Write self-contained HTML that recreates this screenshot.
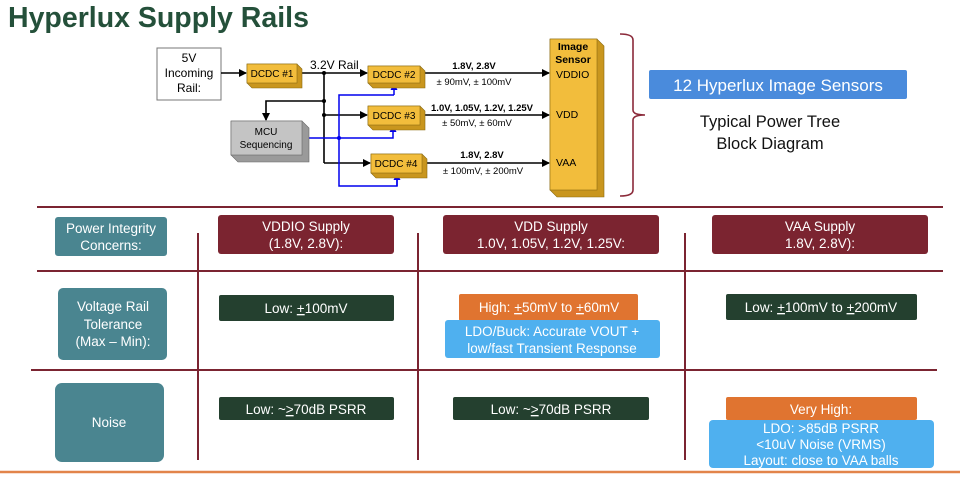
<!DOCTYPE html>
<html><head><meta charset="utf-8"><style>
html,body{margin:0;padding:0;background:#fff;}
svg{display:block;font-family:"Liberation Sans",Arial,sans-serif;}
</style></head><body>
<svg width="960" height="478" viewBox="0 0 960 478" xmlns="http://www.w3.org/2000/svg">
<defs>
<marker id="ab" markerWidth="8" markerHeight="8" refX="7" refY="4" orient="auto" markerUnits="userSpaceOnUse"><path d="M0,0 L8,4 L0,8 z" fill="#000"/></marker>
<marker id="abl" markerWidth="7" markerHeight="7" refX="6" refY="3.5" orient="auto" markerUnits="userSpaceOnUse"><path d="M0,0 L7,3.5 L0,7 z" fill="#0000ee"/></marker>
</defs>
<text x="8" y="27" font-size="28.5" font-weight="bold" fill="#24503a">Hyperlux Supply Rails</text>

<rect x="157" y="48" width="64" height="52" fill="#fff" stroke="#777"/>
<text font-size="12" text-anchor="middle"><tspan x="189" y="62">5V</tspan><tspan x="189" y="77">Incoming</tspan><tspan x="189" y="92">Rail:</tspan></text>

<g stroke="#000" stroke-width="1.6" fill="none">
<line x1="221" y1="73" x2="246" y2="73" marker-end="url(#ab)"/>
<line x1="297" y1="73" x2="367" y2="73" marker-end="url(#ab)"/>
<line x1="324" y1="73" x2="324" y2="163"/>
<polyline points="324,101 266,101 266,120" marker-end="url(#ab)"/>
<line x1="324" y1="115" x2="367" y2="115" marker-end="url(#ab)"/>
<line x1="324" y1="163" x2="370" y2="163" marker-end="url(#ab)"/>
<line x1="425" y1="73" x2="549" y2="73" marker-end="url(#ab)"/>
<line x1="425" y1="115" x2="549" y2="115" marker-end="url(#ab)"/>
<line x1="427" y1="163" x2="549" y2="163" marker-end="url(#ab)"/>
</g>
<g fill="#000"><circle cx="324" cy="73" r="2"/><circle cx="324" cy="101" r="2"/><circle cx="324" cy="115" r="2"/></g>
<text x="310" y="69" font-size="12">3.2V Rail</text>

<g stroke="#0000ee" stroke-width="1.5" fill="none">
<polyline points="302,138 393,138 393,126" marker-end="url(#abl)"/>
<polyline points="394,95 339,95 339,186 397,186 397,174" />
<polyline points="394,95 394,84" marker-end="url(#abl)"/>
<polyline points="397,186 397,174" marker-end="url(#abl)"/>
</g>
<circle cx="339" cy="138" r="2" fill="#0000ee"/>

<g font-size="10" text-anchor="middle">
<g><polygon points="247,64 297,64 302,69 302,88 252,88 247,83" fill="#c9961e" stroke="#8a6a10" stroke-width=".6"/><rect x="247" y="64" width="50" height="19" fill="#f2bd3c" stroke="#8a6a10" stroke-width=".6"/><text x="272" y="77">DCDC #1</text></g>
<g><polygon points="368,66 420,66 425,71 425,88 373,88 368,83" fill="#c9961e" stroke="#8a6a10" stroke-width=".6"/><rect x="368" y="66" width="52" height="17" fill="#f2bd3c" stroke="#8a6a10" stroke-width=".6"/><text x="394" y="78">DCDC #2</text></g>
<g><polygon points="368,106 420,106 425,111 425,130 373,130 368,125" fill="#c9961e" stroke="#8a6a10" stroke-width=".6"/><rect x="368" y="106" width="52" height="19" fill="#f2bd3c" stroke="#8a6a10" stroke-width=".6"/><text x="394" y="119">DCDC #3</text></g>
<g><polygon points="371,154 422,154 427,159 427,178 376,178 371,173" fill="#c9961e" stroke="#8a6a10" stroke-width=".6"/><rect x="371" y="154" width="51" height="19" fill="#f2bd3c" stroke="#8a6a10" stroke-width=".6"/><text x="396" y="167">DCDC #4</text></g>
<g><polygon points="231,121 302,121 309,128 309,162 238,162 231,155" fill="#9a9a9a" stroke="#666" stroke-width=".6"/><rect x="231" y="121" width="71" height="34" fill="#c4c4c4" stroke="#666" stroke-width=".6"/><text x="266" y="135">MCU</text><text x="266" y="148">Sequencing</text></g>
</g>

<polygon points="550,39 597,39 604,46 604,197 557,197 550,190" fill="#c9961e" stroke="#8a6a10" stroke-width=".6"/>
<rect x="550" y="39" width="47" height="151" fill="#f2bd3c" stroke="#8a6a10" stroke-width=".6"/>
<text font-size="10.5" font-weight="bold" text-anchor="middle"><tspan x="573" y="50">Image</tspan><tspan x="573" y="63">Sensor</tspan></text>
<text font-size="10.5"><tspan x="556" y="78">VDDIO</tspan><tspan x="556" y="118">VDD</tspan><tspan x="556" y="166">VAA</tspan></text>

<g font-size="9.5" text-anchor="middle">
<text x="474" y="69" font-weight="bold">1.8V, 2.8V</text><text x="474" y="85">± 90mV, ± 100mV</text>
<text x="482" y="111" font-weight="bold">1.0V, 1.05V, 1.2V, 1.25V</text><text x="477" y="126">± 50mV, ± 60mV</text>
<text x="482" y="158" font-weight="bold">1.8V, 2.8V</text><text x="483" y="174">± 100mV, ± 200mV</text>
</g>

<path d="M620,34 Q633,34 633,40 L633,110 Q633,115 645,115 Q633,115 633,120 L633,190 Q633,196 620,196" fill="none" stroke="#8b2a3a" stroke-width="1.6"/>
<rect x="649" y="70" width="258" height="29" rx="2" fill="#4a8bdc"/>
<text x="778" y="91" font-size="17" fill="#fff" text-anchor="middle">12 Hyperlux Image Sensors</text>
<text font-size="16.5" text-anchor="middle" fill="#111"><tspan x="770" y="127">Typical Power Tree</tspan><tspan x="770" y="149">Block Diagram</tspan></text>

<g stroke="#7b2431" stroke-width="2">
<line x1="37" y1="207" x2="943" y2="207"/>
<line x1="37" y1="271" x2="943" y2="271"/>
<line x1="31" y1="370" x2="937" y2="370"/>
<line x1="198" y1="233" x2="198" y2="460"/>
<line x1="418" y1="233" x2="418" y2="460"/>
<line x1="685" y1="233" x2="685" y2="460"/>
</g>
<line x1="0" y1="472" x2="960" y2="472" stroke="#e2844a" stroke-width="2.5"/>

<g font-size="13.5" text-anchor="middle" fill="#fff">
<rect x="55" y="217" width="112" height="39" rx="3" fill="#4a8590"/>
<text x="111" y="233">Power Integrity</text><text x="111" y="250">Concerns:</text>
<rect x="218" y="215" width="176" height="39" rx="3" fill="#7b2430"/>
<text x="306" y="231">VDDIO Supply</text><text x="306" y="248">(1.8V, 2.8V):</text>
<rect x="443" y="215" width="216" height="39" rx="3" fill="#7b2430"/>
<text x="551" y="231">VDD Supply</text><text x="551" y="248">1.0V, 1.05V, 1.2V, 1.25V:</text>
<rect x="712" y="215" width="216" height="39" rx="3" fill="#7b2430"/>
<text x="820" y="231">VAA Supply</text><text x="820" y="248">1.8V, 2.8V):</text>

<rect x="58" y="288" width="109" height="72" rx="5" fill="#4a8590"/>
<text x="113" y="311">Voltage Rail</text><text x="113" y="329">Tolerance</text><text x="113" y="346">(Max – Min):</text>
<rect x="219" y="295" width="175" height="26" rx="2" fill="#24402f"/>
<text x="306" y="313">Low: <tspan text-decoration="underline">+</tspan>100mV</text>
<rect x="459" y="294" width="179" height="27" rx="2" fill="#e07430"/>
<text x="549" y="312">High: <tspan text-decoration="underline">+</tspan>50mV to <tspan text-decoration="underline">+</tspan>60mV</text>
<rect x="445" y="320" width="215" height="38" rx="3" fill="#4fb0ef"/>
<text x="552" y="336">LDO/Buck: Accurate VOUT +</text><text x="552" y="353">low/fast Transient Response</text>
<rect x="726" y="294" width="191" height="26" rx="2" fill="#24402f"/>
<text x="821" y="312">Low: <tspan text-decoration="underline">+</tspan>100mV to <tspan text-decoration="underline">+</tspan>200mV</text>

<rect x="55" y="383" width="109" height="79" rx="7" fill="#4a8590"/>
<text x="109" y="427">Noise</text>
<rect x="219" y="397" width="175" height="23" rx="2" fill="#24402f"/>
<text x="306" y="414">Low: ~<tspan text-decoration="underline">&gt;</tspan>70dB PSRR</text>
<rect x="453" y="397" width="196" height="23" rx="2" fill="#24402f"/>
<text x="551" y="414">Low: ~<tspan text-decoration="underline">&gt;</tspan>70dB PSRR</text>
<rect x="726" y="397" width="191" height="23" rx="2" fill="#e07430"/>
<text x="821" y="414">Very High:</text>
<rect x="709" y="420" width="225" height="48" rx="4" fill="#4fb0ef"/>
<text x="821" y="433">LDO: &gt;85dB PSRR</text><text x="821" y="449">&lt;10uV Noise (VRMS)</text><text x="821" y="465">Layout: close to VAA balls</text>
</g>
</svg>
</body></html>
